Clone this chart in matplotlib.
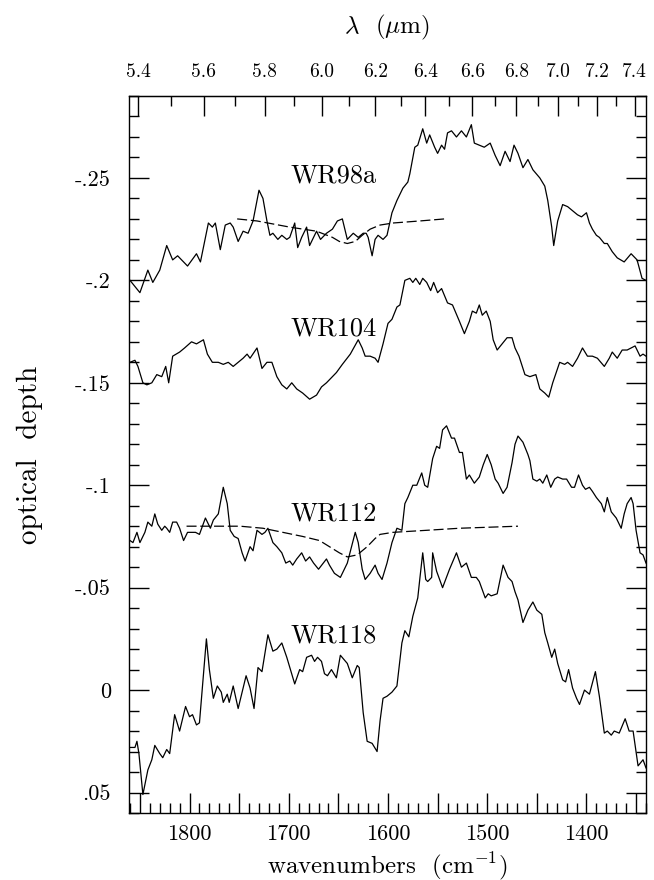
import matplotlib
matplotlib.use("Agg")
import matplotlib.pyplot as plt
import numpy as np
from matplotlib.ticker import FixedLocator, FixedFormatter, MultipleLocator

plt.rcParams["font.family"] = ["cmr10", "DejaVu Serif"]
plt.rcParams["mathtext.fontset"] = "cm"
plt.rcParams["axes.unicode_minus"] = False

# --- data (wavenumber cm^-1, optical depth) ---
wr98a_wn = [1860, 1850, 1842, 1837, 1830, 1823, 1817, 1812, 1802, 1793, 1789, 1781, 1777, 1774,
            1769, 1764, 1759, 1756, 1751, 1746, 1741, 1736, 1730, 1726, 1722, 1719, 1716, 1711,
            1707, 1702, 1699, 1694, 1691, 1687, 1682, 1679, 1676, 1672, 1668, 1662, 1656, 1651,
            1646, 1641, 1635, 1630, 1625, 1622, 1620, 1616, 1613, 1610, 1605, 1601, 1596, 1591,
            1585, 1580, 1578, 1573, 1570, 1565, 1561, 1558, 1553, 1550, 1546, 1543, 1540, 1536,
            1531, 1526, 1521, 1516, 1513, 1508, 1503, 1497, 1492, 1487, 1482, 1477, 1473, 1469,
            1464, 1459, 1454, 1447, 1442, 1439, 1435, 1433, 1429, 1424, 1419, 1414, 1409, 1405,
            1400, 1397, 1394, 1390, 1387, 1382, 1379, 1374, 1369, 1362, 1355, 1349, 1344, 1340]
wr98a_tau = [-0.200, -0.194, -0.205, -0.199, -0.205, -0.217, -0.210, -0.212, -0.207, -0.213,
             -0.209, -0.228, -0.226, -0.228, -0.215, -0.227, -0.228, -0.226, -0.219, -0.224,
             -0.223, -0.229, -0.244, -0.240, -0.229, -0.222, -0.223, -0.220, -0.222, -0.220,
             -0.221, -0.228, -0.216, -0.221, -0.226, -0.217, -0.220, -0.224, -0.220, -0.223,
             -0.225, -0.229, -0.230, -0.220, -0.223, -0.221, -0.223, -0.223, -0.221, -0.212,
             -0.220, -0.222, -0.220, -0.222, -0.233, -0.239, -0.245, -0.248, -0.252, -0.265,
             -0.266, -0.274, -0.267, -0.271, -0.265, -0.262, -0.266, -0.264, -0.272, -0.273,
             -0.270, -0.273, -0.270, -0.276, -0.267, -0.266, -0.265, -0.267, -0.261, -0.256,
             -0.263, -0.258, -0.266, -0.262, -0.255, -0.259, -0.254, -0.250, -0.246, -0.239,
             -0.226, -0.217, -0.229, -0.237, -0.236, -0.234, -0.232, -0.231, -0.233, -0.228,
             -0.225, -0.222, -0.221, -0.218, -0.218, -0.214, -0.211, -0.209, -0.213, -0.210,
             -0.201, -0.200]

wr98a_fit_wn = [1752, 1732, 1699, 1672, 1656, 1649, 1641, 1633, 1626, 1618, 1608, 1595, 1568, 1543]
wr98a_fit_tau = [-0.230, -0.229, -0.226, -0.224, -0.221, -0.219, -0.218, -0.219, -0.222, -0.225,
                 -0.227, -0.228, -0.229, -0.230]

wr104_wn = [1860, 1855, 1852, 1847, 1843, 1838, 1833, 1828, 1824, 1821, 1817, 1810, 1805, 1798,
            1793, 1786, 1782, 1777, 1771, 1766, 1761, 1756, 1751, 1746, 1742, 1739, 1732, 1727,
            1722, 1717, 1712, 1707, 1702, 1697, 1692, 1686, 1679, 1672, 1667, 1662, 1652, 1646,
            1638, 1630, 1626, 1623, 1618, 1613, 1610, 1605, 1600, 1596, 1591, 1588, 1583, 1578,
            1575, 1572, 1568, 1565, 1561, 1557, 1554, 1550, 1546, 1540, 1535, 1528, 1523, 1518,
            1515, 1511, 1508, 1505, 1501, 1497, 1494, 1490, 1485, 1480, 1475, 1472, 1468, 1462,
            1457, 1451, 1447, 1442, 1438, 1434, 1427, 1422, 1419, 1414, 1409, 1404, 1399, 1394,
            1389, 1382, 1377, 1374, 1369, 1364, 1359, 1351, 1346, 1343, 1340]
wr104_tau = [-0.160, -0.161, -0.158, -0.150, -0.149, -0.150, -0.154, -0.153, -0.158, -0.150,
             -0.163, -0.165, -0.167, -0.170, -0.169, -0.171, -0.164, -0.160, -0.160, -0.159,
             -0.160, -0.158, -0.160, -0.162, -0.164, -0.162, -0.167, -0.157, -0.160, -0.160,
             -0.153, -0.149, -0.147, -0.150, -0.147, -0.145, -0.142, -0.144, -0.148, -0.150,
             -0.155, -0.159, -0.164, -0.171, -0.167, -0.163, -0.163, -0.162, -0.160, -0.169,
             -0.179, -0.181, -0.187, -0.188, -0.200, -0.201, -0.199, -0.201, -0.198, -0.201,
             -0.199, -0.195, -0.199, -0.194, -0.196, -0.189, -0.188, -0.180, -0.174, -0.180,
             -0.185, -0.184, -0.188, -0.183, -0.185, -0.180, -0.171, -0.166, -0.169, -0.172,
             -0.172, -0.167, -0.163, -0.154, -0.153, -0.154, -0.147, -0.145, -0.143, -0.150,
             -0.160, -0.159, -0.160, -0.158, -0.162, -0.167, -0.163, -0.163, -0.162, -0.158,
             -0.162, -0.165, -0.162, -0.166, -0.166, -0.168, -0.163, -0.164, -0.163]

wr112_wn = [1860, 1857, 1853, 1850, 1845, 1842, 1838, 1835, 1832, 1828, 1825, 1823, 1820, 1817,
            1813, 1810, 1806, 1802, 1798, 1794, 1790, 1784, 1779, 1776, 1771, 1766, 1762, 1759,
            1755, 1751, 1747, 1744, 1739, 1736, 1732, 1727, 1724, 1721, 1716, 1712, 1707, 1703,
            1699, 1696, 1692, 1687, 1683, 1679, 1675, 1670, 1662, 1659, 1654, 1648, 1641, 1633,
            1630, 1626, 1623, 1618, 1613, 1610, 1606, 1601, 1596, 1591, 1586, 1583, 1580, 1575,
            1571, 1566, 1563, 1560, 1555, 1551, 1548, 1545, 1541, 1536, 1533, 1528, 1525, 1521,
            1518, 1513, 1508, 1504, 1500, 1496, 1492, 1489, 1484, 1480, 1475, 1472, 1469, 1464,
            1459, 1457, 1454, 1450, 1447, 1444, 1440, 1436, 1432, 1429, 1424, 1420, 1415, 1412,
            1408, 1404, 1401, 1397, 1394, 1390, 1385, 1382, 1379, 1375, 1370, 1365, 1362, 1359,
            1355, 1353, 1350, 1346, 1343, 1340]
wr112_tau = [-0.073, -0.072, -0.077, -0.072, -0.077, -0.082, -0.080, -0.086, -0.081, -0.078,
             -0.080, -0.079, -0.077, -0.082, -0.082, -0.079, -0.073, -0.077, -0.077, -0.077,
             -0.076, -0.084, -0.079, -0.083, -0.086, -0.099, -0.091, -0.078, -0.075, -0.074,
             -0.067, -0.063, -0.070, -0.068, -0.078, -0.076, -0.077, -0.079, -0.072, -0.070,
             -0.067, -0.062, -0.063, -0.061, -0.064, -0.067, -0.063, -0.065, -0.062, -0.059,
             -0.064, -0.061, -0.057, -0.055, -0.062, -0.077, -0.072, -0.059, -0.054, -0.057,
             -0.061, -0.057, -0.054, -0.062, -0.072, -0.079, -0.078, -0.091, -0.094, -0.100,
             -0.100, -0.106, -0.100, -0.099, -0.113, -0.119, -0.118, -0.127, -0.129, -0.123,
             -0.123, -0.116, -0.116, -0.103, -0.105, -0.101, -0.104, -0.110, -0.115, -0.110,
             -0.103, -0.101, -0.096, -0.099, -0.111, -0.120, -0.124, -0.121, -0.115, -0.112,
             -0.103, -0.102, -0.103, -0.101, -0.105, -0.099, -0.103, -0.104, -0.103, -0.103,
             -0.099, -0.099, -0.105, -0.100, -0.098, -0.099, -0.097, -0.094, -0.091, -0.087,
             -0.094, -0.087, -0.084, -0.079, -0.086, -0.091, -0.094, -0.091, -0.078, -0.067,
             -0.066, -0.062]

wr112_fit_wn = [1803, 1766, 1749, 1726, 1706, 1686, 1669, 1659, 1649, 1641, 1631, 1621, 1613,
                1608, 1595, 1561, 1528, 1469]
wr112_fit_tau = [-0.080, -0.080, -0.080, -0.079, -0.077, -0.075, -0.073, -0.070, -0.067, -0.065,
                 -0.066, -0.070, -0.074, -0.076, -0.077, -0.078, -0.079, -0.080]

wr118_wn = [1861, 1855, 1853, 1851, 1847, 1842, 1838, 1835, 1830, 1827, 1823, 1820, 1815, 1810,
            1804, 1800, 1797, 1793, 1790, 1783, 1780, 1776, 1772, 1768, 1766, 1762, 1760, 1756,
            1751, 1746, 1743, 1739, 1735, 1731, 1727, 1721, 1716, 1712, 1707, 1702, 1694, 1689,
            1686, 1682, 1677, 1674, 1671, 1667, 1664, 1661, 1657, 1652, 1648, 1641, 1636, 1631,
            1629, 1625, 1621, 1616, 1611, 1608, 1605, 1601, 1596, 1591, 1586, 1583, 1579, 1575,
            1570, 1568, 1565, 1562, 1560, 1556, 1555, 1551, 1545, 1538, 1531, 1526, 1521, 1516,
            1511, 1508, 1502, 1499, 1496, 1490, 1484, 1479, 1475, 1472, 1469, 1464, 1459, 1454,
            1450, 1445, 1442, 1439, 1435, 1432, 1429, 1424, 1421, 1418, 1414, 1410, 1407, 1402,
            1397, 1391, 1387, 1382, 1379, 1375, 1372, 1367, 1361, 1357, 1353, 1348, 1343, 1340]
wr118_tau = [0.028, 0.028, 0.025, 0.031, 0.051, 0.039, 0.034, 0.027, 0.031, 0.033, 0.029, 0.031,
             0.012, 0.020, 0.008, 0.013, 0.012, 0.017, 0.016, -0.025, -0.010, 0.004, -0.002,
             0.001, 0.006, 0.002, 0.006, -0.002, 0.009, -0.001, -0.007, -0.001, 0.009, -0.011,
             -0.009, -0.027, -0.019, -0.020, -0.023, -0.016, -0.003, -0.010, -0.009, -0.016,
             -0.017, -0.014, -0.016, -0.014, -0.008, -0.007, -0.010, -0.006, -0.017, -0.013,
             -0.006, -0.012, -0.011, 0.011, 0.025, 0.026, 0.030, 0.015, 0.004, 0.003, 0.001,
             -0.002, -0.023, -0.029, -0.026, -0.036, -0.045, -0.054, -0.067, -0.054, -0.053,
             -0.055, -0.067, -0.058, -0.050, -0.059, -0.067, -0.060, -0.062, -0.055, -0.055,
             -0.053, -0.045, -0.047, -0.046, -0.047, -0.061, -0.055, -0.053, -0.048, -0.044,
             -0.033, -0.039, -0.043, -0.039, -0.037, -0.028, -0.023, -0.016, -0.020, -0.013,
             -0.005, -0.004, -0.010, -0.001, 0.004, 0.007, 0.000, 0.002, -0.009, 0.003, 0.021,
             0.020, 0.022, 0.020, 0.021, 0.014, 0.020, 0.020, 0.037, 0.034, 0.038]

star_names = ["WR98a", "WR104", "WR112", "WR118"]
label_tau = [-0.248, -0.173, -0.083, -0.023]
label_wn = 1698

ytick_vals = [-0.25, -0.2, -0.15, -0.1, -0.05, 0.0, 0.05]
ytick_text = ["-.25", "-.2", "-.15", "-.1", "-.05", "0", ".05"]
xtick_vals = [1800, 1700, 1600, 1500, 1400]
lam_ticks = [5.4, 5.6, 5.8, 6.0, 6.2, 6.4, 6.6, 6.8, 7.0, 7.2, 7.4]

fig = plt.figure(figsize=(6.54, 8.8), dpi=100)
ax = fig.add_axes([129 / 654, 1 - 813 / 880, 517 / 654, 717 / 880])

lw = 0.9
kw = dict(color="black", lw=lw, solid_joinstyle="round")
ax.plot(wr98a_wn, wr98a_tau, **kw)
ax.plot(wr104_wn, wr104_tau, **kw)
ax.plot(wr112_wn, wr112_tau, **kw)
ax.plot(wr118_wn, wr118_tau, **kw)
ax.plot(wr98a_fit_wn, wr98a_fit_tau, color="black", lw=lw, ls=(0, (8, 3)))
ax.plot(wr112_fit_wn, wr112_fit_tau, color="black", lw=lw, ls=(0, (8, 3)))

for name, t in zip(star_names, label_tau):
    ax.text(label_wn, t, name, fontsize=19, ha="left", va="baseline")

ax.set_xlim(1861, 1340)
ax.set_ylim(0.06, -0.29)

major_x = np.arange(1850, 1340, -50)
ax.xaxis.set_major_locator(FixedLocator(major_x))
ax.xaxis.set_minor_locator(MultipleLocator(10))
ax.xaxis.set_major_formatter(
    FixedFormatter([str(int(v)) if v in xtick_vals else "" for v in major_x]))
ax.yaxis.set_major_locator(FixedLocator(ytick_vals))
ax.yaxis.set_major_formatter(FixedFormatter(ytick_text))
ax.yaxis.set_minor_locator(MultipleLocator(0.01))

ax.tick_params(which="both", direction="in", top=False, right=True, width=1.0)
ax.tick_params(which="major", length=14.5)
ax.tick_params(which="minor", length=7.5)
ax.tick_params(axis="x", which="major", labelsize=16, pad=8)
ax.tick_params(axis="y", which="major", labelsize=16, pad=13)
for s in ax.spines.values():
    s.set_linewidth(1.0)

top = ax.secondary_xaxis("top", functions=(lambda w: 1e4 / w, lambda l: 1e4 / l))
top.xaxis.set_major_locator(FixedLocator(lam_ticks))
top.xaxis.set_major_formatter(FixedFormatter([f"{v:.1f}" for v in lam_ticks]))
top.xaxis.set_minor_locator(FixedLocator(np.arange(5.5, 7.4, 0.2)))
top.tick_params(which="both", direction="in", width=1.0)
top.tick_params(which="major", length=14.5, labelsize=14, pad=11)
top.tick_params(which="minor", length=7.5)

ax.text(0.5, 1.095, r"$\lambda$  ($\mu$m)", transform=ax.transAxes,
        ha="center", va="center", fontsize=18)

ax.set_xlabel(r"wavenumbers  (cm$^{-1}$)", fontsize=18, va="baseline")
ax.xaxis.set_label_coords(0.5, -0.0837)
ax.set_ylabel("optical  depth", fontsize=21)
ax.yaxis.set_label_coords(-0.166, 0.5)

fig.savefig("out.png", dpi=100)
